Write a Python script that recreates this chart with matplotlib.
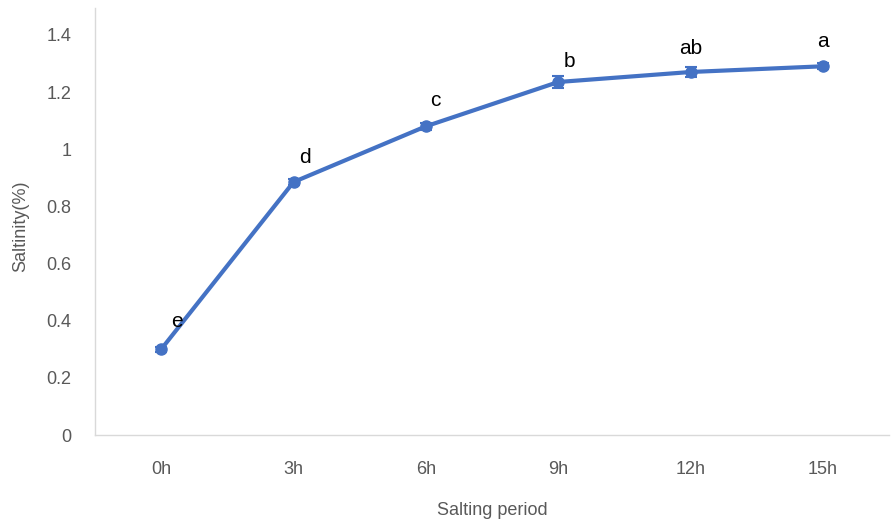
import matplotlib.pyplot as plt

# data
periods = ["0h", "3h", "6h", "9h", "12h", "15h"]
saltinity = [0.30, 0.885, 1.08, 1.235, 1.27, 1.29]
errors = [0.008, 0.012, 0.012, 0.02, 0.018, 0.01]
letters = ["e", "d", "c", "b", "ab", "a"]

plt.rcParams['font.family'] = ['Liberation Sans', 'DejaVu Sans']

fig = plt.figure(figsize=(8.91, 5.24), dpi=100)
ax = fig.add_axes([0.1066, 0.1698, 0.8914, 0.815])

x = list(range(len(periods)))
ax.errorbar(x, saltinity, yerr=errors, color="#4472C4", linewidth=3,
            marker="o", markersize=8, capsize=4, elinewidth=1.5, capthick=1.5)

offsets = [(11, 13), (8, 11), (7, 12), (8, 8), (0, 10), (0, 11)]
for xi, yi, lab, off in zip(x, saltinity, letters, offsets):
    ax.annotate(lab, (xi, yi), xytext=off, textcoords="offset points",
                ha="center", va="bottom", fontsize=15, color="black")

ax.set_xlim(-0.5, 5.5)
ax.set_ylim(0, 1.494)
ax.set_xticks(x)
ax.set_xticklabels(periods)
ax.set_yticks([0, 0.2, 0.4, 0.6, 0.8, 1, 1.2, 1.4])
ax.set_yticklabels(["0", "0.2", "0.4", "0.6", "0.8", "1", "1.2", "1.4"])
ax.tick_params(length=0, labelsize=13, colors="#595959")
ax.tick_params(axis="y", pad=17)
ax.tick_params(axis="x", pad=19)

for s in ["top", "right"]:
    ax.spines[s].set_visible(False)
for s in ["left", "bottom"]:
    ax.spines[s].set_color("#D9D9D9")
    ax.spines[s].set_linewidth(1)

ax.set_xlabel("Salting period", fontsize=13, color="#595959")
ax.xaxis.set_label_coords(0.5, -0.157)
ax.set_ylabel("Saltinity(%)", fontsize=13, color="#595959")
ax.yaxis.set_label_coords(-0.083, 0.49)

fig.savefig("out.png", dpi=100)
